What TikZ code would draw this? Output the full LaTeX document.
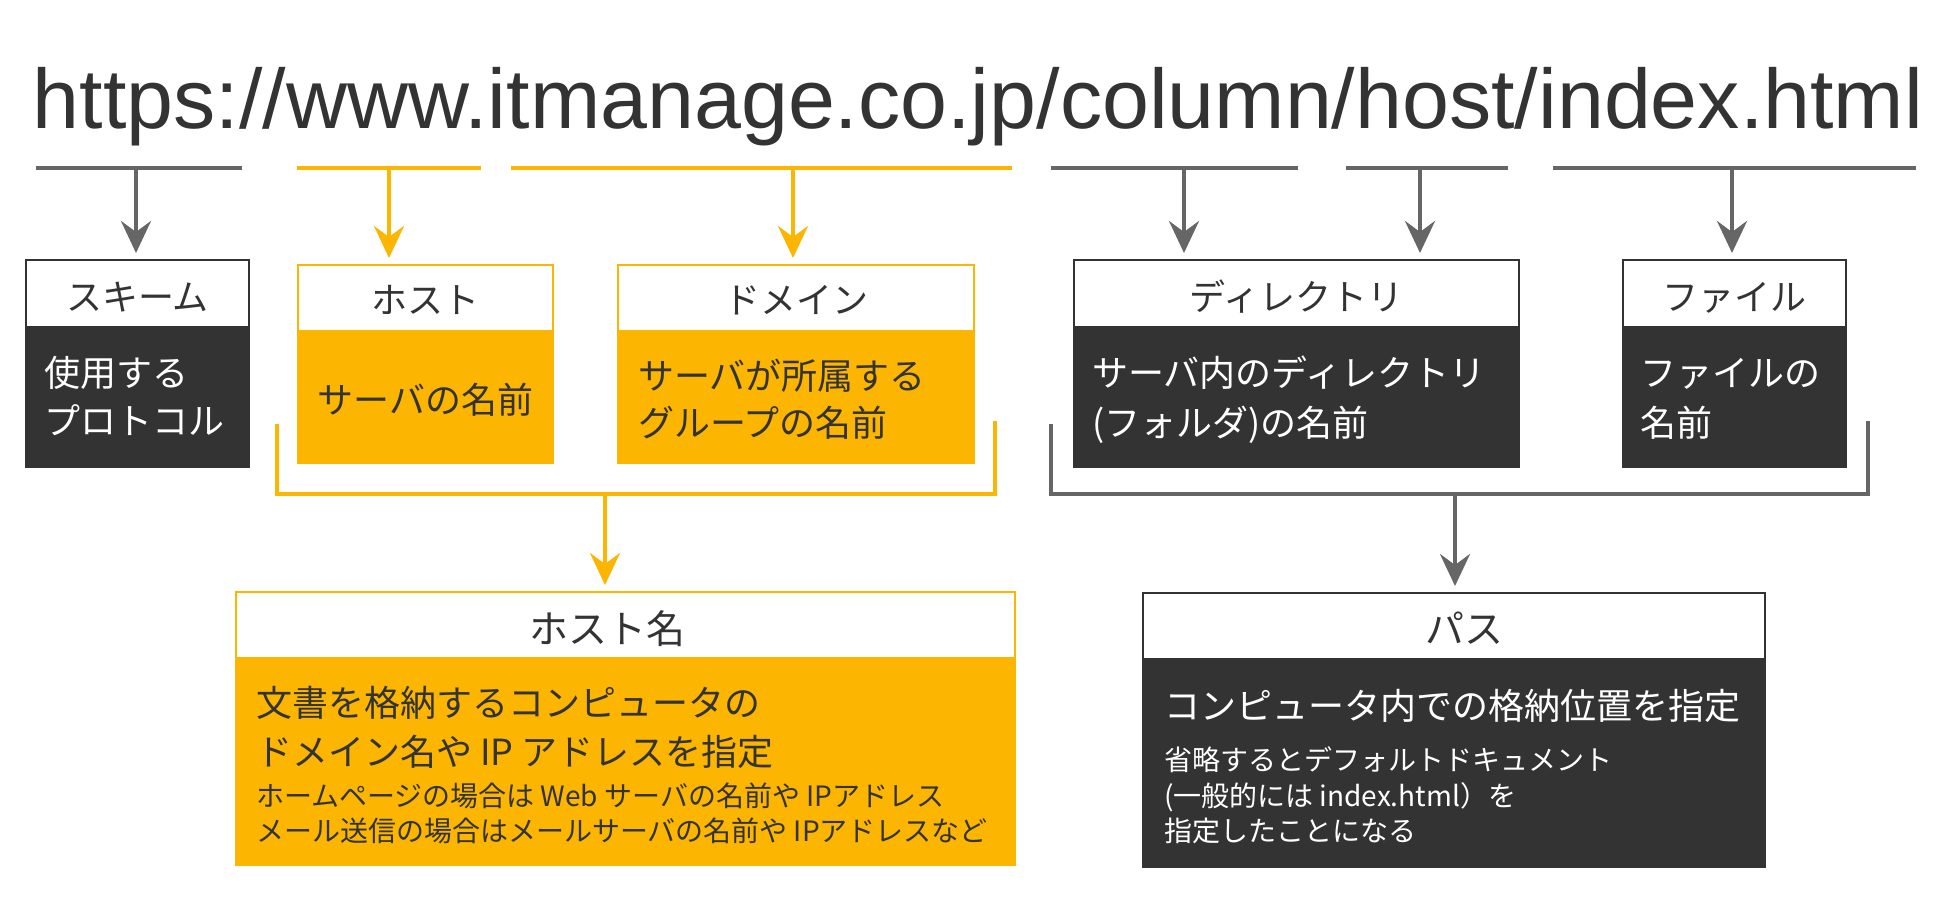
\documentclass[tikz,border=0pt]{standalone}
\usepackage{fontspec}
\setmainfont{Noto Sans CJK JP}
\newfontfamily\urlfont{Liberation Sans}
\usetikzlibrary{arrows.meta}
\definecolor{orng}{RGB}{252,181,0}
\definecolor{dk}{RGB}{51,51,51}
\definecolor{gr}{RGB}{102,102,102}
\tikzset{
  hdr/.style={draw=#1, line width=1pt, fill=white, inner sep=0pt, outer sep=0pt, anchor=north west},
  bdy/.style={draw=#1, fill=#1, line width=1pt, inner sep=0pt, outer sep=0pt, anchor=north west},
  txt/.style={inner sep=0pt, outer sep=0pt, font=\fontsize{18}{18}\selectfont},
  big/.style={inner sep=0pt, outer sep=0pt, font=\fontsize{19.5}{19.5}\selectfont},
  sml/.style={inner sep=0pt, outer sep=0pt, font=\fontsize{14}{14}\selectfont},
  uline/.style={draw=#1, line width=2pt},
  arr/.style={draw=#1, line width=2pt, -{Stealth[length=16pt,width=15pt,inset=5.5pt]}, shorten >=3.5pt},
  brk/.style={draw=#1, line width=1.6pt}
}
\begin{document}
\begin{tikzpicture}[x=0.5pt,y=-0.5pt]
\useasboundingbox (0,0) rectangle (1960,904);
\fill[white] (0,0) rectangle (1960,904);

% URL
\node[anchor=base, inner sep=0pt, text=dk, font=\urlfont\fontsize{42}{42}\selectfont] (url) at (978,129) {\resizebox{945pt}{!}{https://www.itmanage.co.jp/column/host/index.html}};

% Scheme
\node[bdy=dk, minimum width=111.5pt, minimum height=70pt] (schemeB) at (26,327) {};
\node[hdr=dk, minimum width=111.5pt, minimum height=33.5pt] (scheme) at (26,260) {};
\node[txt, anchor=base, text=dk] (schemeT) at (137.5,310) {スキーム};
\node[txt, anchor=base west, text=white] (schemeL1) at (44,386) {使用する};
\node[txt, anchor=base west, text=white] (schemeL2) at (44,434) {プロトコル};

% Host
\node[bdy=orng, minimum width=127.5pt, minimum height=66pt] (hostB) at (298,331) {};
\node[hdr=orng, minimum width=127.5pt, minimum height=33pt] (host) at (298,265) {};
\node[txt, anchor=base, text=dk] (hostT) at (425.5,313) {ホスト};
\node[txt, anchor=base, text=dk] (hostL1) at (425.5,413) {サーバの名前};

% Domain
\node[bdy=orng, minimum width=178pt, minimum height=66pt] (domainB) at (618,331) {};
\node[hdr=orng, minimum width=178pt, minimum height=33pt] (domain) at (618,265) {};
\node[txt, anchor=base, text=dk] (domainT) at (796,313) {ドメイン};
\node[txt, anchor=base west, text=dk] (domainL1) at (638,389) {サーバが所属する};
\node[txt, anchor=base west, text=dk] (domainL2) at (638,436) {グループの名前};

% Directory
\node[bdy=dk, minimum width=222.5pt, minimum height=70pt] (dirB) at (1074,327) {};
\node[hdr=dk, minimum width=222.5pt, minimum height=33.5pt] (dir) at (1074,260) {};
\node[txt, anchor=base, text=dk] (dirT) at (1296.5,310) {ディレクトリ};
\node[txt, anchor=base west, text=white] (dirL1) at (1092,386) {サーバ内のディレクトリ};
\node[txt, anchor=base west, text=white] (dirL2) at (1092,436) {(フォルダ)の名前};

% File
\node[bdy=dk, minimum width=111.5pt, minimum height=70pt] (fileB) at (1623,327) {};
\node[hdr=dk, minimum width=111.5pt, minimum height=33.5pt] (file) at (1623,260) {};
\node[txt, anchor=base, text=dk] (fileT) at (1734.5,310) {ファイル};
\node[txt, anchor=base west, text=white] (fileL1) at (1640,386) {ファイルの};
\node[txt, anchor=base west, text=white] (fileL2) at (1640,436) {名前};

% Host name
\node[bdy=orng, minimum width=389.5pt, minimum height=103.5pt] (hnB) at (236,658) {};
\node[hdr=orng, minimum width=389.5pt, minimum height=33pt] (hn) at (236,592) {};
\node[big, anchor=base, text=dk] (hnT) at (607.5,643) {ホスト名};
\node[txt, anchor=base west, text=dk] (hnL1) at (256,716) {文書を格納するコンピュータの};
\node[txt, anchor=base west, text=dk] (hnL2) at (256,765) {ドメイン名や IP アドレスを指定};
\node[sml, anchor=base west, text=dk] (hnL3) at (256,806) {ホームページの場合は Web サーバの名前や IPアドレス};
\node[sml, anchor=base west, text=dk] (hnL4) at (256,841) {メール送信の場合はメールサーバの名前や IPアドレスなど};

% Path
\node[bdy=dk, minimum width=311pt, minimum height=104pt] (pathB) at (1143,659) {};
\node[hdr=dk, minimum width=311pt, minimum height=33pt] (path) at (1143,593) {};
\node[big, anchor=base, text=dk] (pathT) at (1464,643) {パス};
\node[txt, anchor=base west, text=white] (pathL1) at (1164,719) {コンピュータ内での格納位置を指定};
\node[sml, anchor=base west, text=white] (pathL2) at (1164,770) {省略するとデフォルトドキュメント};
\node[sml, anchor=base west, text=white] (pathL3) at (1164,806) {(一般的には index.html）を};
\node[sml, anchor=base west, text=white] (pathL4) at (1164,841) {指定したことになる};

% underlines
\draw[uline=gr] (36,168) -- (242,168);
\draw[uline=orng] (297,168) -- (481,168);
\draw[uline=orng] (511,168) -- (1012,168);
\draw[uline=gr] (1051,168) -- (1298,168);
\draw[uline=gr] (1346,168) -- (1508,168);
\draw[uline=gr] (1553,168) -- (1916,168);

\coordinate (u1) at (136,168);
\coordinate (u2) at (389,168);
\coordinate (u3) at (793,168);
\coordinate (u4) at (1184,168);
\coordinate (u5) at (1420,168);
\coordinate (u6) at (1732,168);

\draw[arr=gr] (u1) -- (u1 |- scheme.north);
\draw[arr=orng] (u2) -- (u2 |- host.north);
\draw[arr=orng] (u3) -- (u3 |- domain.north);
\draw[arr=gr] (u4) -- (u4 |- dir.north);
\draw[arr=gr] (u5) -- (u5 |- dir.north);
\draw[arr=gr] (u6) -- (u6 |- file.north);

% brackets
\draw[brk=orng] (277,424) -- (277,494) -- (995,494) -- (995,421);
\draw[brk=gr] (1051,424) -- (1051,494) -- (1868,494) -- (1868,421);
\coordinate (bo) at (605,494);
\coordinate (bg) at (1455,494);
\draw[arr=orng] (bo) -- (bo |- hn.north);
\draw[arr=gr] (bg) -- (bg |- path.north);
\end{tikzpicture}
\end{document}
